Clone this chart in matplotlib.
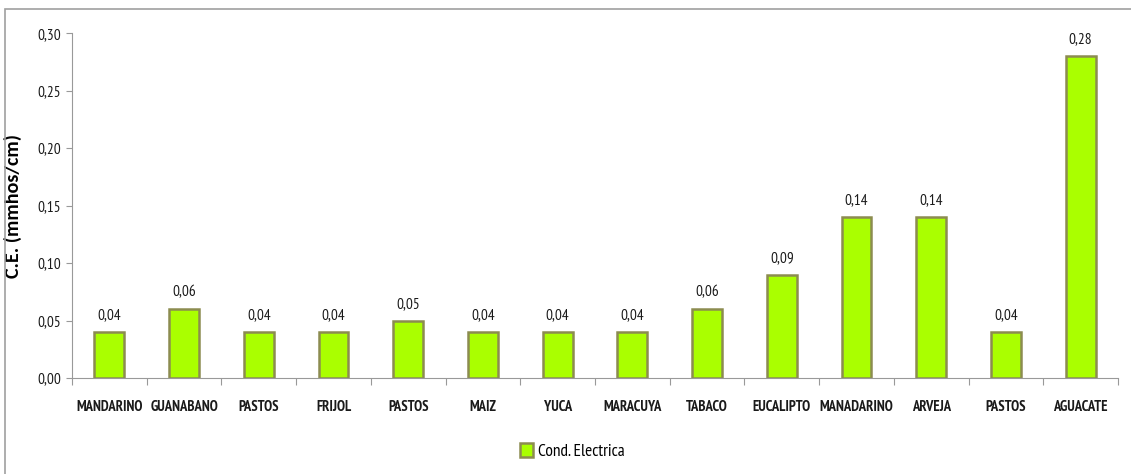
import matplotlib
matplotlib.use("Agg")
import matplotlib.pyplot as plt
from matplotlib.patches import Rectangle

plt.rcParams['font.family'] = ['PT Sans Narrow', 'DejaVu Sans']

categories = ["MANDARINO", "GUANABANO", "PASTOS", "FRIJOL", "PASTOS", "MAIZ", "YUCA",
              "MARACUYA", "TABACO", "EUCALIPTO", "MANADARINO", "ARVEJA", "PASTOS", "AGUACATE"]
values = [0.04, 0.06, 0.04, 0.04, 0.05, 0.04, 0.04, 0.04, 0.06, 0.09, 0.14, 0.14, 0.04, 0.28]
yticks = [0.00, 0.05, 0.10, 0.15, 0.20, 0.25, 0.30]

fig = plt.figure(figsize=(11.31, 4.74), dpi=100)
ax = fig.add_axes([0.0637, 0.2025, 0.9248, 0.7275])

x = list(range(len(categories)))
ax.bar(x, values, width=0.4, color="#aaff00", edgecolor="#8c8c50", linewidth=1.8,
       label="Cond. Electrica")
for xi, v in zip(x, values):
    ax.text(xi, v + 0.0085, f"{v:.2f}".replace(".", ","), ha="center", va="bottom",
            fontsize=11, color="#1a1a1a")

ax.set_xlim(-0.5, len(categories) - 0.5)
ax.set_ylim(0, 0.30)
ax.set_yticks(yticks)
ax.set_yticklabels([f"{t:.2f}".replace(".", ",") for t in yticks], fontsize=11, color="#1a1a1a")
ax.set_xticks([i + 0.5 for i in range(-1, len(categories))])
ax.set_xticklabels([])
ax.set_xticks(x, minor=True)
ax.set_xticklabels(categories, minor=True, fontsize=10.5, fontweight="bold", color="#1a1a1a")
ax.tick_params(axis="x", which="minor", length=0, pad=16)
ax.tick_params(axis="x", which="major", length=5, direction="out", color="#999999")
ax.tick_params(axis="y", length=4, color="#999999", pad=4)
for s in ["top", "right"]:
    ax.spines[s].set_visible(False)
for s in ["left", "bottom"]:
    ax.spines[s].set_color("#999999")
ax.set_ylabel("C.E. (mmhos/cm)", fontsize=14.5, fontweight="bold", family=["Carlito", "DejaVu Sans"])
ax.yaxis.set_label_coords(-0.048, 0.5)

ax.legend(loc="center", bbox_to_anchor=(0.478, -0.213), frameon=False, fontsize=12.5,
          handlelength=0.75, handleheight=0.9, handletextpad=0.3)

fig.patches.append(Rectangle((5 / 1131, -0.01), 1.1, 1 - 9 / 474 + 0.01, transform=fig.transFigure,
                             fill=False, edgecolor="#a0a0a0", linewidth=1.2))
fig.savefig("out.png", dpi=100)
